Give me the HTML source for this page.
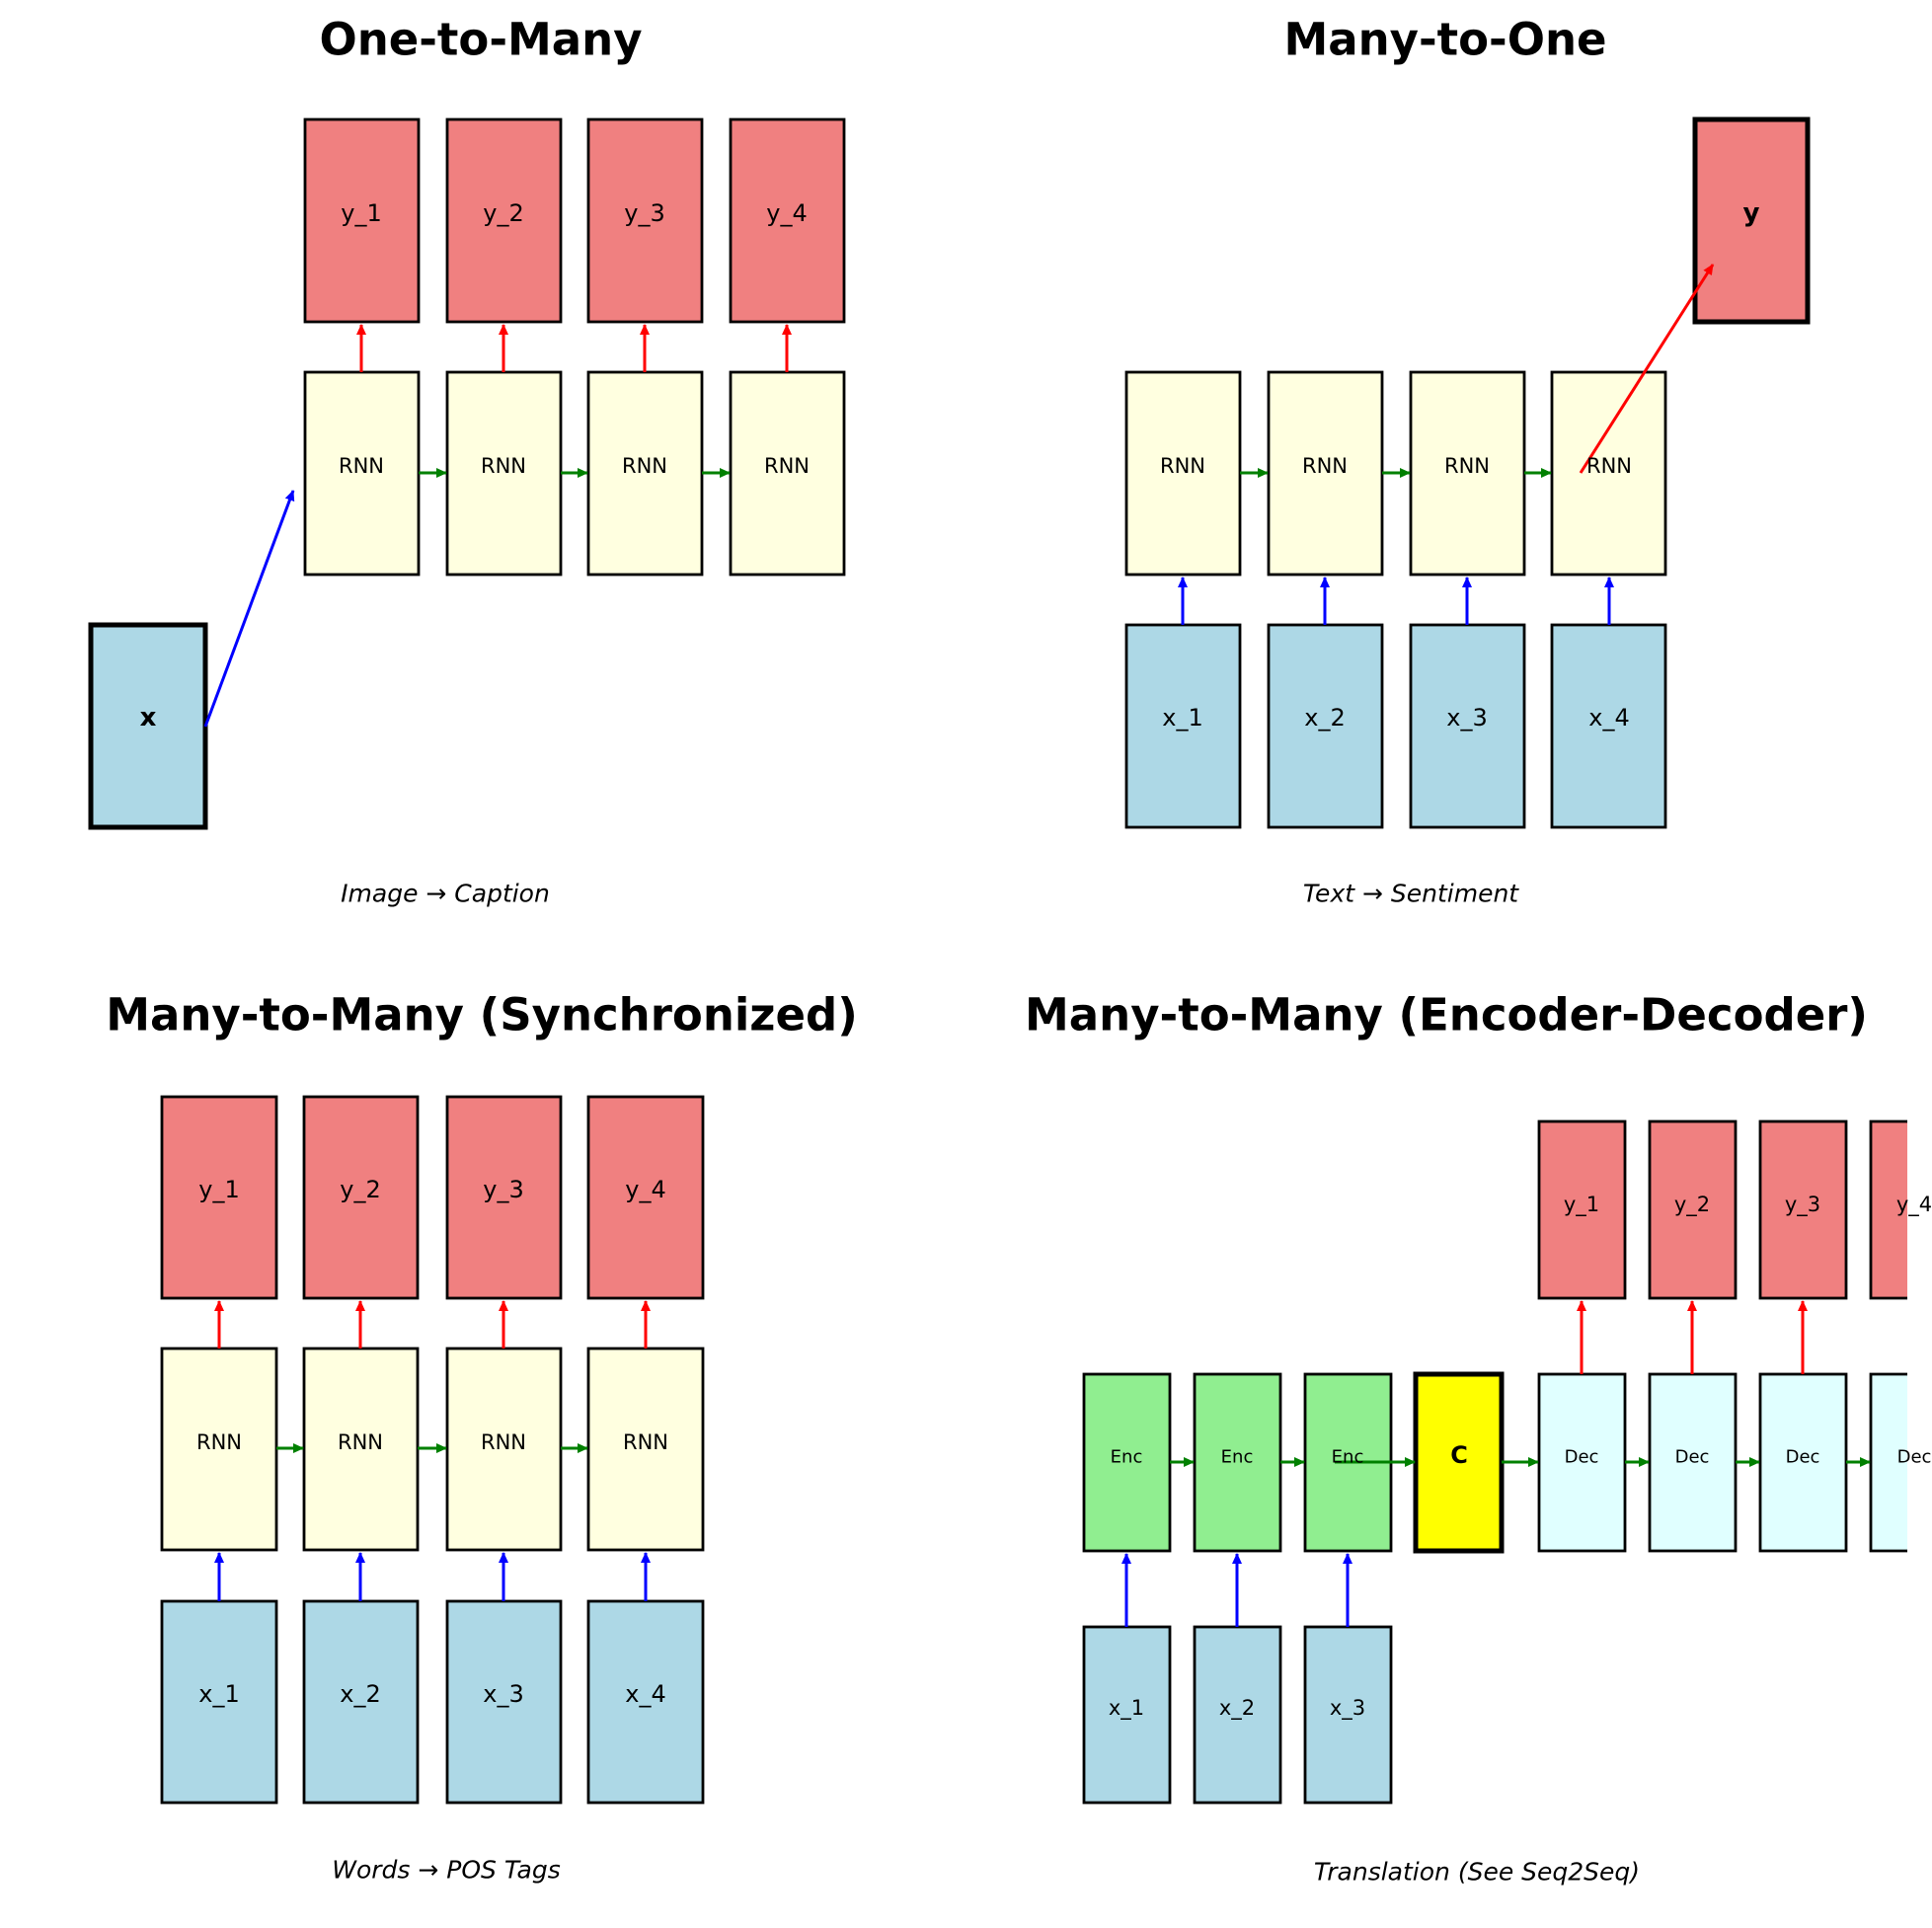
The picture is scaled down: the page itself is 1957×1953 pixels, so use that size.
<!DOCTYPE html>
<html><head><meta charset="utf-8"><style>
html,body{margin:0;padding:0;background:#fff;}
svg{display:block;font-family:"DejaVu Sans","Liberation Sans",sans-serif;}
</style></head><body>
<svg width="1957" height="1953" viewBox="0 0 1957 1953" xmlns="http://www.w3.org/2000/svg">
<defs>
<marker id="ar" markerWidth="11" markerHeight="10" refX="10" refY="5" orient="auto" markerUnits="userSpaceOnUse"><path d="M0,0 L11,5 L0,10 z" fill="#f00"/></marker>
<marker id="ab" markerWidth="11" markerHeight="10" refX="10" refY="5" orient="auto" markerUnits="userSpaceOnUse"><path d="M0,0 L11,5 L0,10 z" fill="#00f"/></marker>
<marker id="ag" markerWidth="11" markerHeight="10" refX="10" refY="5" orient="auto" markerUnits="userSpaceOnUse"><path d="M0,0 L11,5 L0,10 z" fill="#008000"/></marker>
</defs>
<g font-weight="bold" font-size="45" text-anchor="middle" dominant-baseline="central">
<text x="487" y="40">One-to-Many</text>
<text x="1464" y="40">Many-to-One</text>
<text x="488" y="1028">Many-to-Many (Synchronized)</text>
<text x="1465" y="1028">Many-to-Many (Encoder-Decoder)</text>
</g>
<g font-style="italic" font-size="25" text-anchor="middle" dominant-baseline="central">
<text x="451" y="905">Image → Caption</text>
<text x="1429" y="905">Text → Sentiment</text>
<text x="452" y="1894">Words → POS Tags</text>
<text x="1496" y="1896">Translation (See Seq2Seq)</text>
</g>
<g stroke="#000" stroke-width="2.8">
<rect x="309" y="121" width="115" height="205" fill="#f08080"/>
<rect x="453" y="121" width="115" height="205" fill="#f08080"/>
<rect x="596" y="121" width="115" height="205" fill="#f08080"/>
<rect x="740" y="121" width="115" height="205" fill="#f08080"/>
<rect x="309" y="377" width="115" height="205" fill="#ffffe0"/>
<rect x="453" y="377" width="115" height="205" fill="#ffffe0"/>
<rect x="596" y="377" width="115" height="205" fill="#ffffe0"/>
<rect x="740" y="377" width="115" height="205" fill="#ffffe0"/>
<rect x="92" y="633" width="116" height="205" fill="#add8e6" stroke-width="5"/>
<rect x="1141" y="377" width="115" height="205" fill="#ffffe0"/>
<rect x="1285" y="377" width="115" height="205" fill="#ffffe0"/>
<rect x="1429" y="377" width="115" height="205" fill="#ffffe0"/>
<rect x="1572" y="377" width="115" height="205" fill="#ffffe0"/>
<rect x="1141" y="633" width="115" height="205" fill="#add8e6"/>
<rect x="1285" y="633" width="115" height="205" fill="#add8e6"/>
<rect x="1429" y="633" width="115" height="205" fill="#add8e6"/>
<rect x="1572" y="633" width="115" height="205" fill="#add8e6"/>
<rect x="1717" y="121" width="114" height="205" fill="#f08080" stroke-width="5"/>
<rect x="164" y="1111" width="116" height="204" fill="#f08080"/>
<rect x="308" y="1111" width="115" height="204" fill="#f08080"/>
<rect x="453" y="1111" width="115" height="204" fill="#f08080"/>
<rect x="596" y="1111" width="116" height="204" fill="#f08080"/>
<rect x="164" y="1366" width="116" height="204" fill="#ffffe0"/>
<rect x="308" y="1366" width="115" height="204" fill="#ffffe0"/>
<rect x="453" y="1366" width="115" height="204" fill="#ffffe0"/>
<rect x="596" y="1366" width="116" height="204" fill="#ffffe0"/>
<rect x="164" y="1622" width="116" height="204" fill="#add8e6"/>
<rect x="308" y="1622" width="115" height="204" fill="#add8e6"/>
<rect x="453" y="1622" width="115" height="204" fill="#add8e6"/>
<rect x="596" y="1622" width="116" height="204" fill="#add8e6"/>
<rect x="1098" y="1392" width="87" height="179" fill="#90ee90"/>
<rect x="1210" y="1392" width="87" height="179" fill="#90ee90"/>
<rect x="1322" y="1392" width="87" height="179" fill="#90ee90"/>
<rect x="1434" y="1392" width="87" height="179" fill="#ffff00" stroke-width="5"/>
<rect x="1559" y="1392" width="87" height="179" fill="#e0ffff"/>
<rect x="1671" y="1392" width="87" height="179" fill="#e0ffff"/>
<rect x="1783" y="1392" width="87" height="179" fill="#e0ffff"/>
<path d="M1932,1392 H1895 V1571 H1932" fill="#e0ffff"/>
<rect x="1559" y="1136" width="87" height="179" fill="#f08080"/>
<rect x="1671" y="1136" width="87" height="179" fill="#f08080"/>
<rect x="1783" y="1136" width="87" height="179" fill="#f08080"/>
<path d="M1932,1136 H1895 V1315 H1932" fill="#f08080"/>
<rect x="1098" y="1648" width="87" height="178" fill="#add8e6"/>
<rect x="1210" y="1648" width="87" height="178" fill="#add8e6"/>
<rect x="1322" y="1648" width="87" height="178" fill="#add8e6"/>
</g>
<g stroke-width="3" fill="none">
<g stroke="#f00" marker-end="url(#ar)">
<line x1="366" y1="377" x2="366" y2="329"/><line x1="510" y1="377" x2="510" y2="329"/><line x1="653" y1="377" x2="653" y2="329"/><line x1="797" y1="377" x2="797" y2="329"/>
<line x1="1601" y1="479" x2="1735" y2="268"/>
<line x1="222" y1="1366" x2="222" y2="1318"/><line x1="365" y1="1366" x2="365" y2="1318"/><line x1="510" y1="1366" x2="510" y2="1318"/><line x1="654" y1="1366" x2="654" y2="1318"/>
<line x1="1602" y1="1392" x2="1602" y2="1318"/><line x1="1714" y1="1392" x2="1714" y2="1318"/><line x1="1826" y1="1392" x2="1826" y2="1318"/>
</g>
<g stroke="#00f" marker-end="url(#ab)">
<line x1="208" y1="736" x2="297" y2="497"/>
<line x1="1198" y1="633" x2="1198" y2="585"/><line x1="1342" y1="633" x2="1342" y2="585"/><line x1="1486" y1="633" x2="1486" y2="585"/><line x1="1630" y1="633" x2="1630" y2="585"/>
<line x1="222" y1="1622" x2="222" y2="1573"/><line x1="365" y1="1622" x2="365" y2="1573"/><line x1="510" y1="1622" x2="510" y2="1573"/><line x1="654" y1="1622" x2="654" y2="1573"/>
<line x1="1141" y1="1648" x2="1141" y2="1574"/><line x1="1253" y1="1648" x2="1253" y2="1574"/><line x1="1365" y1="1648" x2="1365" y2="1574"/>
</g>
<g stroke="#008000" marker-end="url(#ag)">
<line x1="424" y1="479" x2="452" y2="479"/><line x1="568" y1="479" x2="595" y2="479"/><line x1="711" y1="479" x2="739" y2="479"/>
<line x1="1256" y1="479" x2="1284" y2="479"/><line x1="1400" y1="479" x2="1428" y2="479"/><line x1="1544" y1="479" x2="1571" y2="479"/>
<line x1="280" y1="1467" x2="307" y2="1467"/><line x1="423" y1="1467" x2="452" y2="1467"/><line x1="568" y1="1467" x2="595" y2="1467"/>
<line x1="1185" y1="1481" x2="1209" y2="1481"/><line x1="1297" y1="1481" x2="1321" y2="1481"/><line x1="1352" y1="1481" x2="1433" y2="1481"/>
<line x1="1521" y1="1481" x2="1558" y2="1481"/><line x1="1646" y1="1481" x2="1670" y2="1481"/><line x1="1758" y1="1481" x2="1782" y2="1481"/><line x1="1870" y1="1481" x2="1894" y2="1481"/>
</g>
</g>
<g font-size="24" text-anchor="middle" dominant-baseline="central" fill="#000">
<text x="366" y="216">y_1</text><text x="510" y="216">y_2</text><text x="653" y="216">y_3</text><text x="797" y="216">y_4</text>
<text x="1198" y="727">x_1</text><text x="1342" y="727">x_2</text><text x="1486" y="727">x_3</text><text x="1630" y="727">x_4</text>
<text x="222" y="1205">y_1</text><text x="365" y="1205">y_2</text><text x="510" y="1205">y_3</text><text x="654" y="1205">y_4</text>
<text x="222" y="1716">x_1</text><text x="365" y="1716">x_2</text><text x="510" y="1716">x_3</text><text x="654" y="1716">x_4</text>
</g>
<g font-size="21" text-anchor="middle" dominant-baseline="central">
<text x="366" y="472">RNN</text><text x="510" y="472">RNN</text><text x="653" y="472">RNN</text><text x="797" y="472">RNN</text>
<text x="1198" y="472">RNN</text><text x="1342" y="472">RNN</text><text x="1486" y="472">RNN</text><text x="1630" y="472">RNN</text>
<text x="222" y="1461">RNN</text><text x="365" y="1461">RNN</text><text x="510" y="1461">RNN</text><text x="654" y="1461">RNN</text>
<text x="1141" y="1730">x_1</text><text x="1253" y="1730">x_2</text><text x="1365" y="1730">x_3</text>
<text x="1602" y="1220">y_1</text><text x="1714" y="1220">y_2</text><text x="1826" y="1220">y_3</text><text x="1939" y="1220">y_4</text>
</g>
<g font-size="18" text-anchor="middle" dominant-baseline="central">
<text x="1141" y="1476">Enc</text><text x="1253" y="1476">Enc</text><text x="1365" y="1476">Enc</text>
<text x="1602" y="1476">Dec</text><text x="1714" y="1476">Dec</text><text x="1826" y="1476">Dec</text><text x="1939" y="1476">Dec</text>
</g>
<g font-weight="bold" text-anchor="middle" dominant-baseline="central">
<text x="150" y="727" font-size="26">x</text>
<text x="1774" y="216" font-size="26">y</text>
<text x="1478" y="1474" font-size="24">C</text>
</g>
</svg>
</body></html>
